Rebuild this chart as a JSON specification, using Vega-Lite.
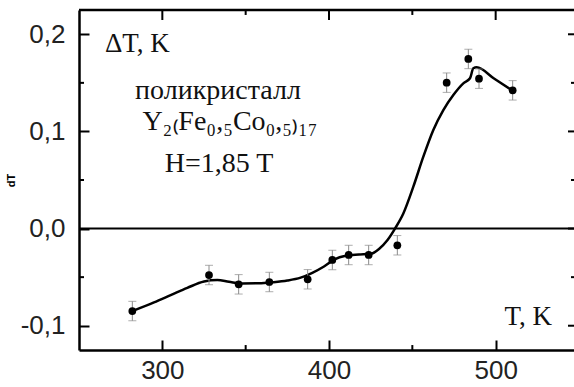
{
  "$schema": "https://vega.github.io/schema/vega-lite/v6.json",
  "width": 495,
  "height": 340,
  "autosize": {"type": "none"},
  "padding": {"left": 79, "top": 10, "right": 0, "bottom": 37},
  "background": "white",
  "config": {
    "locale": {"number": {"decimal": ",", "thousands": " ", "grouping": [3], "currency": ["", ""], "minus": "-"}},
    "view": {"stroke": null},
    "axis": {
      "grid": false,
      "title": null,
      "domainColor": "black",
      "domainWidth": 2.5,
      "tickColor": "black",
      "tickWidth": 2,
      "labelFont": "Liberation Sans",
      "labelFontSize": 26,
      "labelColor": "#222"
    }
  },
  "datasets": {
    "curve": [
      {"T": 282, "dT": -0.0849},
      {"T": 295, "dT": -0.076},
      {"T": 305, "dT": -0.0685},
      {"T": 315, "dT": -0.061},
      {"T": 325, "dT": -0.0545},
      {"T": 333, "dT": -0.053},
      {"T": 340, "dT": -0.0548},
      {"T": 348, "dT": -0.0565},
      {"T": 358, "dT": -0.0563},
      {"T": 366, "dT": -0.0553},
      {"T": 375, "dT": -0.0535},
      {"T": 383, "dT": -0.0505},
      {"T": 390, "dT": -0.0455},
      {"T": 397, "dT": -0.039},
      {"T": 403, "dT": -0.032},
      {"T": 410, "dT": -0.028},
      {"T": 418, "dT": -0.0268},
      {"T": 425, "dT": -0.026},
      {"T": 430, "dT": -0.021},
      {"T": 435, "dT": -0.012},
      {"T": 439.6, "dT": 0.0},
      {"T": 444.6, "dT": 0.0155},
      {"T": 450.6, "dT": 0.0431},
      {"T": 456.6, "dT": 0.074},
      {"T": 462.6, "dT": 0.1015},
      {"T": 468.6, "dT": 0.122},
      {"T": 474.6, "dT": 0.1375},
      {"T": 480.6, "dT": 0.1495},
      {"T": 484.6, "dT": 0.1547},
      {"T": 486.6, "dT": 0.165},
      {"T": 488.6, "dT": 0.166},
      {"T": 499, "dT": 0.1545},
      {"T": 509.6, "dT": 0.1426}
    ],
    "pts": [
      {"T": 282.0, "dT": -0.0849, "err": 0.01},
      {"T": 328.0, "dT": -0.0478, "err": 0.01},
      {"T": 345.8, "dT": -0.0574, "err": 0.01},
      {"T": 364.2, "dT": -0.055, "err": 0.01},
      {"T": 387.2, "dT": -0.0522, "err": 0.01},
      {"T": 402.0, "dT": -0.0323, "err": 0.01},
      {"T": 411.8, "dT": -0.0272, "err": 0.01},
      {"T": 423.8, "dT": -0.0272, "err": 0.01},
      {"T": 441.0, "dT": -0.0172, "err": 0.01},
      {"T": 470.6, "dT": 0.1502, "err": 0.01},
      {"T": 483.6, "dT": 0.1746, "err": 0.01},
      {"T": 490.0, "dT": 0.1543, "err": 0.01},
      {"T": 510.2, "dT": 0.1423, "err": 0.01}
    ],
    "notesLeft": [{"T": 265.6, "dT": 0.1818, "label": "ΔT, K"}],
    "notesCenter": [
      {"T": 333.4, "dT": 0.1335, "label": "поликристалл"},
      {"T": 340.6, "dT": 0.1015, "label": "Y₂₍Fe₀,₅Co₀,₅₎₁₇"},
      {"T": 334.0, "dT": 0.0582, "label": "H=1,85 T"}
    ],
    "notesRight": [{"T": 533.8, "dT": -0.0993, "label": "T, K"}],
    "zero": [{"v": 0}],
    "top": [{"v": 0.225}],
    "xMajor": [{"T": 300}, {"T": 400}, {"T": 500}],
    "xMinor": [{"T": 350}, {"T": 450}],
    "yMajor": [{"dT": -0.1}, {"dT": 0}, {"dT": 0.1}, {"dT": 0.2}],
    "yMinor": [{"dT": -0.05}, {"dT": 0.05}, {"dT": 0.15}]
  },
  "layer": [
    {
      "data": {"name": "curve"},
      "mark": {"type": "line", "interpolate": "monotone", "color": "black", "strokeWidth": 2.5},
      "encoding": {
        "x": {
          "field": "T", "type": "quantitative",
          "scale": {"domain": [250, 547], "nice": false, "zero": false},
          "axis": {"orient": "bottom", "values": [300, 400, 500], "format": "d", "tickSize": -10, "labelPadding": 17}
        },
        "y": {
          "field": "dT", "type": "quantitative",
          "scale": {"domain": [-0.125, 0.225], "nice": false, "zero": false},
          "axis": {"orient": "left", "values": [-0.1, 0, 0.1, 0.2], "format": ".1f", "tickSize": -10, "labelPadding": 24}
        }
      }
    },
    {
      "data": {"name": "pts"},
      "mark": {"type": "errorbar", "ticks": true, "color": "#8a8a8a", "thickness": 1, "size": 8},
      "encoding": {
        "x": {"field": "T", "type": "quantitative"},
        "y": {"field": "dT", "type": "quantitative"},
        "yError": {"field": "err"}
      }
    },
    {
      "data": {"name": "pts"},
      "mark": {"type": "point", "filled": true, "color": "black", "opacity": 1, "size": 60},
      "encoding": {
        "x": {"field": "T", "type": "quantitative"},
        "y": {"field": "dT", "type": "quantitative"}
      }
    },
    {
      "data": {"name": "zero"},
      "mark": {"type": "rule", "color": "black", "strokeWidth": 2},
      "encoding": {"y": {"field": "v", "type": "quantitative"}}
    },
    {
      "data": {"name": "top"},
      "mark": {"type": "rule", "color": "black", "strokeWidth": 2.5},
      "encoding": {"y": {"field": "v", "type": "quantitative"}}
    },
    {
      "data": {"name": "xMajor"},
      "mark": {"type": "rule", "color": "black", "strokeWidth": 2},
      "encoding": {
        "x": {"field": "T", "type": "quantitative"},
        "y": {"datum": 0.225},
        "y2": {"datum": 0.2147}
      }
    },
    {
      "data": {"name": "xMinor"},
      "mark": {"type": "rule", "color": "black", "strokeWidth": 2},
      "encoding": {
        "x": {"field": "T", "type": "quantitative"},
        "y": {"datum": 0.225},
        "y2": {"datum": 0.2199}
      }
    },
    {
      "data": {"name": "xMinor"},
      "mark": {"type": "rule", "color": "black", "strokeWidth": 2},
      "encoding": {
        "x": {"field": "T", "type": "quantitative"},
        "y": {"datum": -0.125},
        "y2": {"datum": -0.1199}
      }
    },
    {
      "data": {"name": "yMinor"},
      "mark": {"type": "rule", "color": "black", "strokeWidth": 2},
      "encoding": {
        "y": {"field": "dT", "type": "quantitative"},
        "x": {"datum": 250},
        "x2": {"datum": 253}
      }
    },
    {
      "data": {"name": "yMajor"},
      "mark": {"type": "rule", "color": "black", "strokeWidth": 2},
      "encoding": {
        "y": {"field": "dT", "type": "quantitative"},
        "x": {"datum": 547},
        "x2": {"datum": 543.4}
      }
    },
    {
      "data": {"name": "yMinor"},
      "mark": {"type": "rule", "color": "black", "strokeWidth": 2},
      "encoding": {
        "y": {"field": "dT", "type": "quantitative"},
        "x": {"datum": 547},
        "x2": {"datum": 545.2}
      }
    },
    {
      "data": {"name": "notesLeft"},
      "mark": {"type": "text", "align": "left", "baseline": "alphabetic", "font": "Liberation Serif", "fontSize": 27, "color": "#111"},
      "encoding": {
        "x": {"field": "T", "type": "quantitative"},
        "y": {"field": "dT", "type": "quantitative"},
        "text": {"field": "label"}
      }
    },
    {
      "data": {"name": "notesCenter"},
      "mark": {"type": "text", "align": "center", "baseline": "alphabetic", "font": "Liberation Serif", "fontSize": 28, "color": "#111"},
      "encoding": {
        "x": {"field": "T", "type": "quantitative"},
        "y": {"field": "dT", "type": "quantitative"},
        "text": {"field": "label"}
      }
    },
    {
      "data": {"name": "notesRight"},
      "mark": {"type": "text", "align": "right", "baseline": "alphabetic", "font": "Liberation Serif", "fontSize": 27, "color": "#111"},
      "encoding": {
        "x": {"field": "T", "type": "quantitative"},
        "y": {"field": "dT", "type": "quantitative"},
        "text": {"field": "label"}
      }
    }
  ]
}
